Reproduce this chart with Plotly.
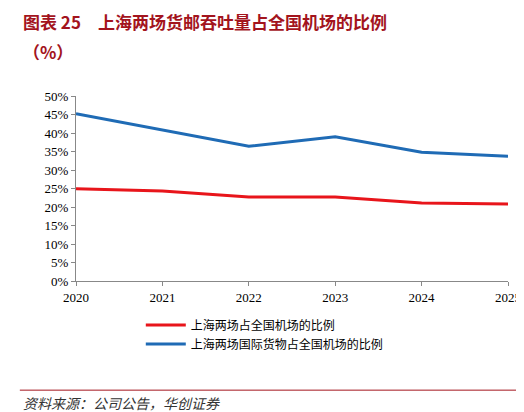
import plotly.graph_objects as go

years = ["2020", "2021", "2022", "2023", "2024", "2025"]
share_total = [24.9, 24.3, 22.7, 22.7, 21.1, 20.8]
share_intl = [45.2, 40.8, 36.4, 39.0, 34.8, 33.7]
name_total = "上海两场占全国机场的比例"
name_intl = "上海两场国际货物占全国机场的比例"
yticks = list(range(0, 55, 5))

font = "Noto Sans CJK SC"
fig = go.Figure()
fig.add_trace(go.Scatter(x=years, y=share_total, mode="lines", name=name_total,
                         line=dict(color="#e8151b", width=3)))
fig.add_trace(go.Scatter(x=years, y=share_intl, mode="lines", name=name_intl,
                         line=dict(color="#1f6bb5", width=3)))
fig.update_layout(
    width=524, height=412, margin=dict(l=68, r=24, t=88, b=139),
    paper_bgcolor="white", plot_bgcolor="white",
    font=dict(family=font, size=12, color="black"),
    showlegend=True,
    legend=dict(x=0.15, y=-0.16, xanchor="left", yanchor="top", orientation="v",
                font=dict(size=12), tracegroupgap=0, itemwidth=40),
    xaxis=dict(showline=True, linecolor="#888", ticks="outside", ticklen=4, tickcolor="#888",
               showgrid=False, tickfont=dict(family="Times New Roman, Liberation Serif", size=13)),
    yaxis=dict(range=[0, 50], tickvals=yticks, ticktext=[f"{v}%" for v in yticks],
               showline=True, linecolor="#888", ticks="outside", ticklen=4, tickcolor="#888",
               showgrid=False, tickfont=dict(family="Times New Roman, Liberation Serif", size=13)),
)
fig.add_annotation(text="<b>图表 25　上海两场货邮吞吐量占全国机场的比例</b>", xref="paper", yref="paper",
                   x=-0.127, y=1, yshift=60, xanchor="left", yanchor="bottom", showarrow=False,
                   font=dict(size=17, color="#a3141d", family=font))
fig.add_annotation(text="<b>（%）</b>", xref="paper", yref="paper",
                   x=-0.127, y=1, yshift=30, xanchor="left", yanchor="bottom", showarrow=False,
                   font=dict(size=17, color="#a3141d", family=font))
fig.add_annotation(text="<i>资料来源：公司公告，华创证券</i>", xref="paper", yref="paper",
                   x=-0.127, y=0, yshift=-134, xanchor="left", yanchor="bottom", showarrow=False,
                   font=dict(size=14, color="#333", family=font))
fig.add_shape(type="line", xref="paper", yref="paper", x0=-0.13, x1=1.05, y0=-0.59, y1=-0.59,
              line=dict(color="#a3141d", width=1))
fig.write_html("out.html")
